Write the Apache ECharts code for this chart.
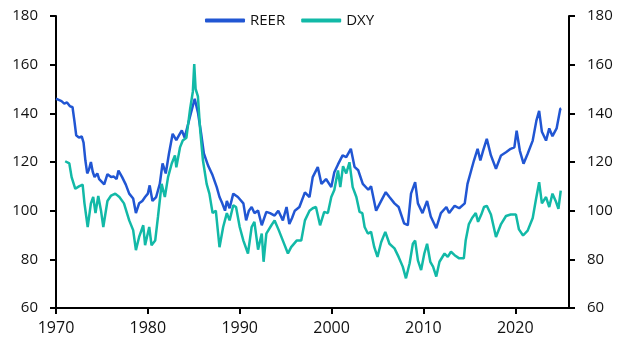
<!DOCTYPE html>
<html>
<head>
<meta charset="utf-8">
<script src="https://cdn.jsdelivr.net/npm/echarts@6/dist/echarts.min.js"></script>
<style>
  html, body { margin: 0; padding: 0; background: #fff; }
  #chart { width: 630px; height: 354px; }
</style>
</head>
<body>
<div id="chart"></div>
<script>
// REER (decimal year, index)
const reerYears = [
  1970.0, 1970.3, 1970.6, 1970.9, 1971.2, 1971.5, 1971.8, 1972.0, 1972.2, 1972.5,
  1972.8, 1973.0, 1973.2, 1973.4, 1973.6, 1973.8, 1974.0, 1974.2, 1974.5, 1974.7,
  1974.9, 1975.25, 1975.6, 1976.0, 1976.3, 1976.6, 1976.8, 1977.2, 1977.6, 1977.97,
  1978.4, 1978.7, 1979.05, 1979.4, 1979.7, 1980.0, 1980.2, 1980.5, 1980.9, 1981.3,
  1981.6, 1981.95, 1982.3, 1982.7, 1983.1, 1983.4, 1983.7, 1984.0, 1984.4, 1984.75,
  1985.1, 1985.45, 1985.8, 1986.1, 1986.55, 1987.0, 1987.5, 1987.8, 1988.1, 1988.4,
  1988.6, 1988.9, 1989.3, 1989.8, 1990.4, 1990.7, 1991.0, 1991.3, 1991.6, 1992.0,
  1992.4, 1992.9, 1993.3, 1993.8, 1994.2, 1994.7, 1995.1, 1995.4, 1995.7, 1996.0,
  1996.5, 1997.1, 1997.6, 1997.95, 1998.5, 1998.9, 1999.4, 1999.97, 2000.3, 2000.7,
  2001.2, 2001.6, 2002.1, 2002.5, 2002.9, 2003.4, 2004.0, 2004.3, 2004.85, 2005.4,
  2005.9, 2006.3, 2006.85, 2007.3, 2007.9, 2008.3, 2008.65, 2009.1, 2009.4, 2009.9,
  2010.4, 2010.8, 2011.4, 2011.9, 2012.5, 2012.8, 2013.4, 2013.9, 2014.5, 2014.8,
  2015.2, 2015.5, 2015.9, 2016.2, 2016.5, 2016.9, 2017.35, 2017.9, 2018.45, 2018.99,
  2019.5, 2019.9, 2020.15, 2020.5, 2020.9, 2021.35, 2021.9, 2022.3, 2022.6, 2022.9,
  2023.35, 2023.7, 2024.05, 2024.5, 2024.7, 2024.9, 2025.0
];
const reerValues = [
  146, 145.5, 145, 144, 144.5, 143, 142.5, 137, 131, 130,
  130.5, 128, 120.6, 115.3, 117, 120, 116, 113.8, 115.3, 113,
  112.4, 110.8, 115, 113.8, 114, 113, 116.5, 113.8, 110.7, 107,
  105, 99, 103, 104, 105.6, 107, 110.4, 104, 105.6, 111,
  119.4, 115.3, 123.5, 131.6, 129, 131, 133, 130, 135.8, 141,
  146, 140.4, 131.7, 123.5, 118.6, 115, 109.7, 105.6, 103, 100,
  104, 101, 107, 105.6, 103, 96, 100, 101.5, 99, 100,
  94, 99.5, 99, 98, 100, 96, 101.5, 94.5, 97, 100,
  101.5, 107.5, 105.6, 113.8, 117.9, 111, 113, 109.7, 115.8, 119,
  122.7, 122, 125.4, 118, 116.6, 111, 108.6, 110, 100, 104,
  107.6, 105.6, 103, 101.5, 94.8, 94, 107, 111.7, 103, 99,
  104, 97.6, 92.8, 99, 101.5, 99, 102, 101, 103, 111,
  116.5, 120.6, 125.4, 120.6, 124.7, 129.5, 122.7, 117.2, 122.7, 124,
  125.4, 126, 132.9, 124.6, 119.3, 123.4, 128.8, 137, 141, 132.4,
  128.8, 133.8, 130.6, 133.8, 133, 141.8, 142
];

// DXY (decimal year, index)
const dxyYears = [
  1971.0, 1971.45, 1971.7, 1972.1, 1972.5, 1972.9, 1973.1, 1973.45, 1973.8, 1974.05,
  1974.3, 1974.6, 1974.9, 1975.15, 1975.6, 1976.0, 1976.45, 1976.9, 1977.4, 1977.97,
  1978.4, 1978.7, 1979.05, 1979.5, 1979.7, 1980.15, 1980.4, 1980.8, 1981.1, 1981.5,
  1981.85, 1982.2, 1982.6, 1982.95, 1983.1, 1983.5, 1983.8, 1984.2, 1984.6, 1984.9,
  1985.05, 1985.2, 1985.45, 1985.7, 1986.0, 1986.4, 1986.7, 1987.05, 1987.4, 1987.8,
  1988.2, 1988.6, 1988.9, 1989.3, 1989.6, 1990.0, 1990.4, 1990.9, 1991.3, 1991.6,
  1992.0, 1992.4, 1992.6, 1992.9, 1993.45, 1993.8, 1994.25, 1994.7, 1995.25, 1995.6,
  1996.2, 1996.7, 1997.1, 1997.6, 1997.95, 1998.3, 1998.75, 1999.2, 1999.6, 1999.97,
  2000.3, 2000.7, 2000.95, 2001.25, 2001.6, 2001.95, 2002.3, 2002.7, 2003.05, 2003.35,
  2003.6, 2003.95, 2004.3, 2004.65, 2005.0, 2005.4, 2005.85, 2006.3, 2006.85, 2007.3,
  2007.75, 2008.1, 2008.5, 2008.85, 2009.1, 2009.4, 2009.75, 2010.1, 2010.4, 2010.75,
  2011.05, 2011.4, 2011.75, 2012.3, 2012.65, 2013.0, 2013.4, 2013.9, 2014.4, 2014.6,
  2014.95, 2015.3, 2015.7, 2015.95, 2016.3, 2016.6, 2016.9, 2017.35, 2017.9, 2018.45,
  2018.99, 2019.5, 2020.07, 2020.4, 2020.85, 2021.35, 2021.9, 2022.25, 2022.6, 2022.9,
  2023.35, 2023.7, 2024.05, 2024.4, 2024.7, 2024.95
];
const dxyValues = [
  120.3, 119.4, 113.8, 109, 110, 110.7, 103, 93.3, 103, 105.6,
  99, 106, 100, 93.3, 104, 106.2, 107, 105.6, 103, 96,
  92, 83.8, 89.2, 94, 85.8, 93.3, 85.8, 87.7, 97.4, 111,
  105.6, 113.8, 119.4, 122.7, 117.8, 126, 128.8, 130, 141.8, 149,
  160.2, 150, 147, 133, 120.6, 111, 107, 99, 100, 85,
  93.3, 99, 96, 102.2, 101.5, 93.3, 87.7, 82.4, 93.3, 95.4,
  84, 90.6, 79, 90.6, 94, 96, 92, 87.7, 82.4, 85,
  87.7, 87.7, 96, 100, 101, 101.5, 94, 99.5, 99, 105.6,
  108.5, 116.5, 109.7, 118.3, 115.3, 119.9, 109.7, 105.6, 99.5, 99,
  93.3, 90.6, 91.3, 85, 81, 87, 91.3, 86.4, 84.5, 81,
  77, 72.2, 78.4, 86.4, 87.7, 79.6, 75.6, 82.4, 86.4, 79,
  77, 72.9, 79, 82.4, 81, 83.1, 81.7, 80.4, 80.4, 87.7,
  94.5, 97, 99, 95.4, 98.4, 101.5, 102, 98.4, 89.2, 94.5,
  97.8, 98.4, 98.4, 92.3, 89.8, 91.8, 97, 104.6, 111.7, 103,
  105.6, 101.5, 107, 104, 100.8, 108.2
];

const yTicks = { min: 60, max: 180, step: 20 };
const xTicks = { min: 1970, max: 2025.85, step: 10 };

const chart = echarts.init(document.getElementById('chart'));

const axisFont = { fontFamily: 'Open Sans', fontSize: 15, color: '#111' };

const yAxisBase = {
  type: 'value',
  min: yTicks.min,
  max: yTicks.max,
  interval: yTicks.step,
  splitLine: { show: false },
  axisLine: { show: true, lineStyle: { color: '#000', width: 2 } },
  axisTick: { show: true, length: 6, lineStyle: { color: '#000', width: 2 } },
  axisLabel: { ...axisFont, margin: 18 }
};

const option = {
  animation: false,
  grid: { left: 56, right: 61, top: 16, bottom: 46 },
  legend: {
    top: 8,
    left: 200,
    itemWidth: 40,
    itemHeight: 4,
    itemGap: 16,
    icon: 'roundRect',
    textStyle: { fontFamily: 'Open Sans', fontSize: 15, color: '#111' },
    data: ['REER', 'DXY']
  },
  xAxis: {
    type: 'value',
    min: xTicks.min,
    max: xTicks.max,
    interval: xTicks.step,
    splitLine: { show: false },
    axisLine: { onZero: false, lineStyle: { color: '#000', width: 2 } },
    axisTick: { length: 6, lineStyle: { color: '#000', width: 2 } },
    axisLabel: { ...axisFont, fontSize: 16, margin: 12, showMaxLabel: false, formatter: v => String(Math.round(v)) }
  },
  yAxis: [
    { ...yAxisBase, position: 'left' },
    { ...yAxisBase, position: 'right' }
  ],
  series: [
    {
      name: 'REER',
      type: 'line',
      showSymbol: false,
      symbol: 'none',
      data: reerYears.map((y, i) => [y, reerValues[i]]),
      lineStyle: { color: '#2156d3', width: 2.5 },
      itemStyle: { color: '#2156d3' }
    },
    {
      name: 'DXY',
      type: 'line',
      showSymbol: false,
      symbol: 'none',
      data: dxyYears.map((y, i) => [y, dxyValues[i]]),
      lineStyle: { color: '#12b9a7', width: 2.5 },
      itemStyle: { color: '#12b9a7' }
    }
  ]
};

chart.setOption(option);
</script>
</body>
</html>
